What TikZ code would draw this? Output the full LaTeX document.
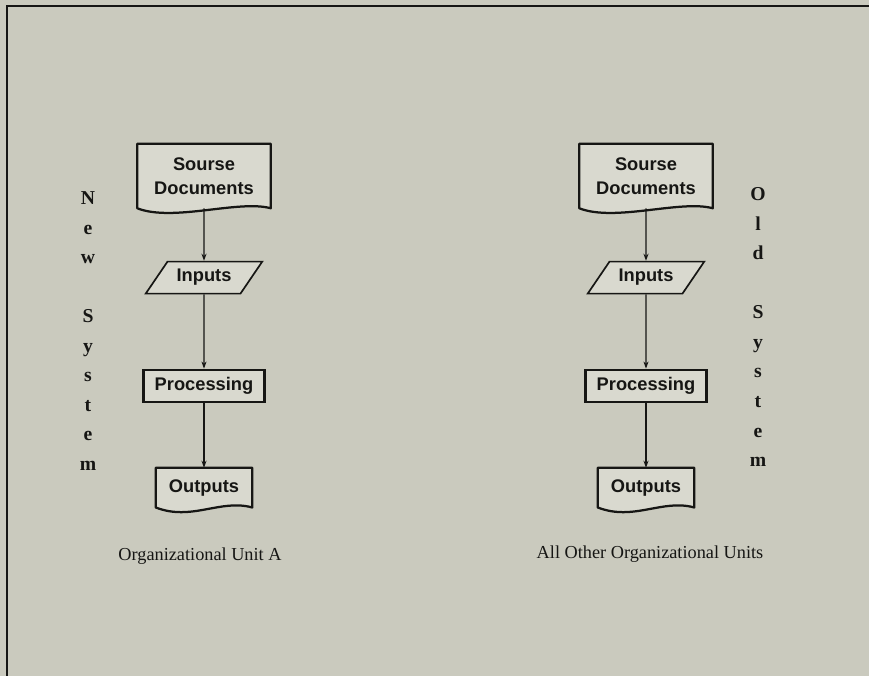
\documentclass[tikz,border=0pt]{standalone}
\usepackage{fontspec}
\setmainfont{Liberation Serif}
\newfontfamily\boxfont{Liberation Sans}
\usepackage{tikz}
\usetikzlibrary{arrows.meta,positioning,calc,shapes.geometric,backgrounds}
\definecolor{paper}{RGB}{202,202,190}
\definecolor{boxfill}{RGB}{217,217,207}
\definecolor{ink}{RGB}{22,22,20}

\begin{document}
\begin{tikzpicture}[
  >={Stealth[length=5pt,width=3.6pt]},
  every node/.style={text=ink},
  boxtext/.style={font=\boxfont\bfseries\fontsize{13}{17}\selectfont, align=center, inner sep=0pt},
  doc/.style={boxtext, minimum width=3.325cm, minimum height=1.6cm},
  outdoc/.style={boxtext, minimum width=2.4cm, minimum height=0.98cm},
  inbox/.style={boxtext, draw=ink, fill=boxfill, line width=1.2pt, trapezium, trapezium left angle=45,
    trapezium right angle=135, trapezium stretches=true, minimum width=2.925cm, minimum height=0.8cm},
  procbox/.style={boxtext, draw=ink, fill=boxfill, line width=2pt, minimum width=3.025cm, minimum height=0.8cm},
  sidetext/.style={font=\bfseries\fontsize{14}{21}\selectfont, align=center, inner sep=0pt},
  caption/.style={font=\fontsize{13}{15}\selectfont, inner sep=0pt},
  flow/.style={->, draw=ink, line width=1pt}
]
\useasboundingbox (0,0) rectangle (21.725,-16.9);

% left column: new system
\node[doc] (srcA) at (5.1,-4.4) {Sourse\\Documents};
\node[inbox] (inA) at (5.1,-6.94) {Inputs};
\node[procbox] (procA) at (5.1,-9.65) {Processing};
\node[outdoc] (outA) at (5.1,-12.19) {Outputs};
\node[caption] (capA) at (5.0,-13.9) {Organizational Unit A};
\node[sidetext] (newlab) at (2.2,-8.28) {N\\e\\w\\[21pt]S\\y\\s\\t\\e\\m};

% right column: old system
\node[doc] (srcB) at (16.15,-4.4) {Sourse\\Documents};
\node[inbox] (inB) at (16.15,-6.94) {Inputs};
\node[procbox] (procB) at (16.15,-9.65) {Processing};
\node[outdoc] (outB) at (16.15,-12.19) {Outputs};
\node[caption] (capB) at (16.25,-13.85) {All Other Organizational Units};
\node[sidetext] (oldlab) at (18.95,-8.18) {O\\l\\d\\[21pt]S\\y\\s\\t\\e\\m};

% document outlines with wavy bottom
\begin{scope}[on background layer]
  \fill[paper] (0,0) rectangle (21.725,-16.9);
  \foreach \n in {srcA,srcB,outA,outB}
    \filldraw[draw=ink, fill=boxfill, line width=1.6pt, line join=round]
      (\n.south west) -- (\n.north west) -- (\n.north east) -- (\n.south east)
      .. controls ($(\n.south east)+(-0.8,0.22)$) and ($(\n.south west)+(0.9,-0.35)$) .. (\n.south west) -- cycle;
\end{scope}

% frame
\draw[ink, line width=1.5pt] (0.17,-16.9) -- (0.17,-0.15) -- (21.725,-0.15);

% flow lines
\foreach \c in {A,B} {
  \draw[flow] (src\c.south) -- (in\c.north);
  \draw[flow] (in\c.south) -- (proc\c.north);
  \draw[flow] (proc\c.south) -- (out\c.north);
}
\end{tikzpicture}
\end{document}
